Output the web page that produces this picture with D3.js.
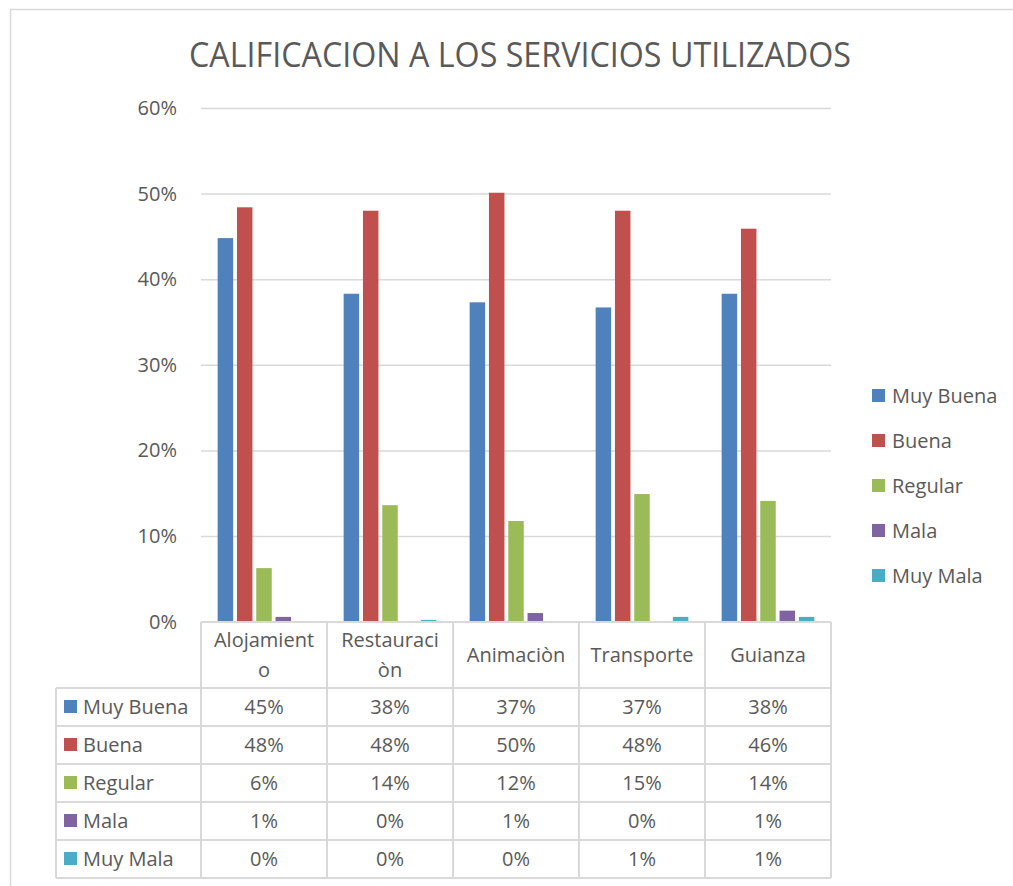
<!DOCTYPE html>
<html>
<head>
<meta charset="utf-8">
<script src="https://cdn.jsdelivr.net/npm/d3@7"></script>
<style>
  html, body { margin: 0; padding: 0; background: #ffffff; }
  svg { display: block; }
  text { font-family: "Open Sans", "Noto Sans", sans-serif; fill: #595959; }
</style>
</head>
<body>
<svg id="chart" width="1013" height="886"></svg>
<script>
// ---- data ----
const title = "CALIFICACION A LOS SERVICIOS UTILIZADOS";
const categories = ["Alojamiento", "Restauraciòn", "Animaciòn", "Transporte", "Guianza"];
const seriesNames = ["Muy Buena", "Buena", "Regular", "Mala", "Muy Mala"];
const muyBuena = [0.448, 0.383, 0.373, 0.367, 0.383];
const buena    = [0.484, 0.480, 0.501, 0.480, 0.459];
const regular  = [0.0625, 0.136, 0.1175, 0.149, 0.141];
const mala     = [0.0055, 0.0, 0.0100, 0.0, 0.0128];
const muyMala  = [0.0, 0.002, 0.0, 0.0055, 0.0055];
const yTicks = [0, 0.1, 0.2, 0.3, 0.4, 0.5, 0.6];
const colors = ["#4F81BD", "#C0504D", "#9BBB59", "#8064A2", "#4BACC6"];

const seriesValues = [muyBuena, buena, regular, mala, muyMala];
const series = seriesNames.map((name, i) => ({ name, values: seriesValues[i], color: colors[i] }));

// ---- layout ----
const svg = d3.select("#chart");
const plotLeft = 201, plotRight = 831, plotTop = 108, plotBottom = 621.6;
const gridColor = "#D9D9D9";
const fs = 20;

// outer chart border
svg.append("rect")
  .attr("x", 10.5).attr("y", 9.5)
  .attr("width", 1100).attr("height", 1000)
  .attr("fill", "none").attr("stroke", gridColor).attr("stroke-width", 1.5);

// title
svg.append("text")
  .attr("x", 520).attr("y", 67)
  .attr("text-anchor", "middle")
  .attr("font-size", 34)
  .attr("textLength", 662)
  .attr("lengthAdjust", "spacingAndGlyphs")
  .text(title);

const x = d3.scaleBand().domain(categories).range([plotLeft, plotRight]).padding(0);
const groupPad = 14.75;
const xs = d3.scaleBand().domain(seriesNames)
  .range([groupPad, x.bandwidth() - groupPad]).padding(0);
const barW = 15.5;
const y = d3.scaleLinear().domain([0, 0.6]).range([plotBottom, plotTop]);

// gridlines + y axis labels
const yAxis = d3.axisLeft(y)
  .tickValues(yTicks)
  .tickFormat(d3.format(".0%"))
  .tickSize(-(plotRight - plotLeft))
  .tickPadding(24);
const gy = svg.append("g").attr("transform", `translate(${plotLeft},0)`).call(yAxis);
gy.select(".domain").remove();
gy.selectAll(".tick line").attr("stroke", gridColor).attr("stroke-width", 1.5);
gy.selectAll(".tick text")
  .attr("font-size", fs)
  .attr("font-family", "'Open Sans', sans-serif")
  .attr("fill", "#595959");

// bars
const groups = svg.append("g").selectAll("g")
  .data(series).join("g")
  .attr("fill", d => d.color);
groups.selectAll("rect")
  .data(d => d.values.map((v, j) => ({ v, cat: categories[j], name: d.name })))
  .join("rect")
  .attr("x", d => x(d.cat) + xs(d.name) + (xs.bandwidth() - barW) / 2)
  .attr("width", barW)
  .attr("y", d => y(d.v))
  .attr("height", d => y(0) - y(d.v));

// ---- data table ----
const headerTop = 622, headerBottom = 688;
const rowH = 38;
const tableLeft = 56;
const rowsBottom = headerBottom + rowH * series.length;
const tbl = svg.append("g");
const lineAttrs = sel => sel.attr("stroke", gridColor).attr("stroke-width", 2).attr("fill", "none");

// header row top line
tbl.append("line").attr("x1", plotLeft).attr("x2", plotRight)
  .attr("y1", headerTop).attr("y2", headerTop).call(lineAttrs);
// horizontal lines of data rows
d3.range(series.length + 1).forEach(i => {
  const yy = headerBottom + i * rowH;
  tbl.append("line").attr("x1", tableLeft).attr("x2", plotRight)
    .attr("y1", yy).attr("y2", yy).call(lineAttrs);
});
// vertical lines
tbl.append("line").attr("x1", tableLeft).attr("x2", tableLeft)
  .attr("y1", headerBottom).attr("y2", rowsBottom).call(lineAttrs);
categories.concat(["__end"]).forEach((c, i) => {
  const xx = plotLeft + i * x.bandwidth();
  tbl.append("line").attr("x1", xx).attr("x2", xx)
    .attr("y1", headerTop).attr("y2", rowsBottom).call(lineAttrs);
});

// category labels (wrap long words by characters, as the original does)
const maxChars = 10;
categories.forEach(c => {
  const lines = [];
  for (let i = 0; i < c.length; i += maxChars) lines.push(c.slice(i, i + maxChars));
  const cx = x(c) + x.bandwidth() / 2;
  const lineH = 30;
  const firstBaseline = 662 - (lines.length - 1) * lineH / 2;
  const t = tbl.append("text").attr("text-anchor", "middle").attr("font-size", fs);
  lines.forEach((ln, k) => {
    t.append("tspan").attr("x", cx).attr("y", firstBaseline + k * lineH).text(ln);
  });
});

// rows
const fmt = d3.format(".0%");
series.forEach((s, i) => {
  const cy = headerBottom + i * rowH + rowH / 2;
  tbl.append("rect").attr("x", 64).attr("y", cy - 7).attr("width", 13).attr("height", 13).attr("fill", s.color);
  tbl.append("text").attr("x", 83).attr("y", cy + 7).attr("font-size", fs).text(s.name);
  s.values.forEach((v, j) => {
    tbl.append("text")
      .attr("x", x(categories[j]) + x.bandwidth() / 2)
      .attr("y", cy + 7)
      .attr("text-anchor", "middle")
      .attr("font-size", fs)
      .text(fmt(v));
  });
});

// ---- legend ----
const legend = svg.append("g");
series.forEach((s, i) => {
  const cy = 396 + i * 45;
  legend.append("rect").attr("x", 872).attr("y", cy - 7).attr("width", 13).attr("height", 13).attr("fill", s.color);
  legend.append("text").attr("x", 892).attr("y", cy + 7).attr("font-size", fs).text(s.name);
});
</script>
</body>
</html>
